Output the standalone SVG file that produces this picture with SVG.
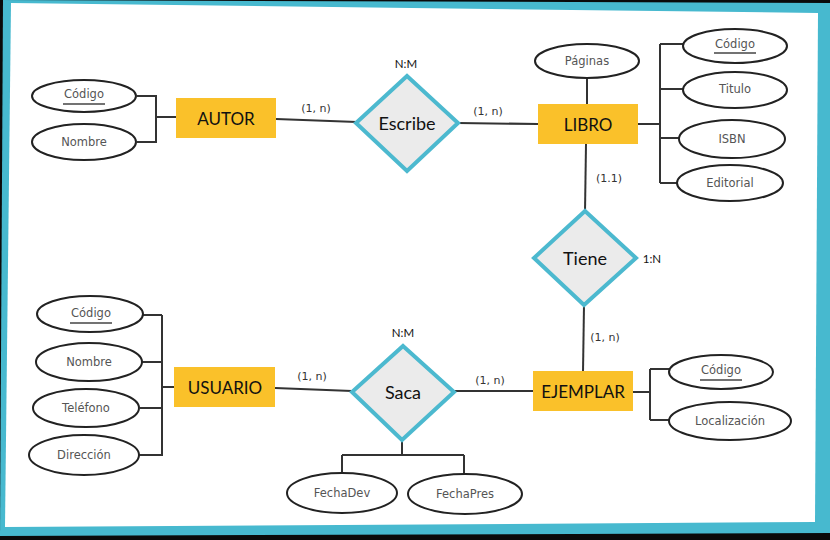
<svg xmlns="http://www.w3.org/2000/svg" width="830" height="540" viewBox="0 0 830 540">
<style>
.ent rect{fill:#FAC12A}
.ent text{font-family:Lato,"Open Sans",sans-serif;font-size:17px;fill:#111;text-anchor:middle;dominant-baseline:central}
.rel polygon{fill:#EBEBEB;stroke:#4CB9CF;stroke-width:4;stroke-linejoin:miter}
.rel text{font-family:Lato,"Open Sans",sans-serif;font-size:18px;fill:#111;text-anchor:middle;dominant-baseline:central}
.att ellipse{fill:#fff;stroke:#222;stroke-width:2}
.att text{font-family:"DejaVu Sans",sans-serif;font-size:11.5px;fill:#555;text-anchor:middle;dominant-baseline:central}
.att line{stroke:#444;stroke-width:1.6}
.conn path{fill:none;stroke:#333;stroke-width:2}
.lbl{font-family:"DejaVu Sans",sans-serif;font-size:11px;fill:#333;text-anchor:middle;dominant-baseline:central}
.card{font-family:Lato,"Open Sans",sans-serif;font-size:11.5px;fill:#111;text-anchor:middle;dominant-baseline:central}
</style>
<rect x="0" y="0" width="830" height="540" fill="#0a0a0a"/>
<polygon points="3,0 830,3 830,533 0,536" fill="#47B9CF"/>
<polygon points="11,3 818,13 815,522 5,527" fill="#fff"/>

<g class="conn" id="connectors">
<path d="M137,96 H156 M137,142 H156 M156,95 V143 M156,117 H176"/>
<path d="M276,119 L357,122"/>
<path d="M458,123 L538,124"/>
<path d="M587,79 V104"/>
<path d="M586,144 L585,212"/>
<path d="M638,124 H660 M660,44 V183 M660,44 H683 M660,89 H683 M660,138 H679 M660,183 H678"/>
<path d="M584,305 L583,372"/>
<path d="M633,392 H650 M650,369 V420 M650,369 H669 M650,420 H669"/>
<path d="M143,315 H162 M142,362 H162 M140,408 H162 M139,455 H162 M162,315 V456 M162,387 H174"/>
<path d="M275,388 L352,391"/>
<path d="M454,391 L533,391"/>
<path d="M402,440 V455 M342,455 H464 M342,455 V473 M464,455 V474"/>
</g>

<g id="autor" class="ent"><rect x="176" y="98" width="100" height="40"/><text x="226" y="118">AUTOR</text></g>
<g id="libro" class="ent"><rect x="538" y="104" width="100" height="40"/><text x="588" y="124">LIBRO</text></g>
<g id="ejemplar" class="ent"><rect x="533" y="371" width="100" height="40"/><text x="583" y="391">EJEMPLAR</text></g>
<g id="usuario" class="ent"><rect x="174" y="367" width="101" height="40"/><text x="225" y="387">USUARIO</text></g>

<g id="escribe" class="rel"><polygon points="407,76 458,123 407,171 356,123"/><text x="407" y="123">Escribe</text></g>
<g id="tiene" class="rel"><polygon points="585,211 636,258 584,305 534,258"/><text x="585" y="258">Tiene</text></g>
<g id="saca" class="rel"><polygon points="403,346 454,392 402,440 352,392"/><text x="403" y="392">Saca</text></g>

<g id="autor-codigo" class="att"><ellipse cx="84" cy="96" rx="52" ry="16"/><text x="84" y="94">Código</text><line x1="63" y1="104" x2="105" y2="104"/></g>
<g id="autor-nombre" class="att"><ellipse cx="84" cy="142" rx="52" ry="18"/><text x="84" y="142">Nombre</text></g>

<g id="libro-paginas" class="att"><ellipse cx="587" cy="61" rx="52" ry="17"/><text x="587" y="61">Páginas</text></g>
<g id="libro-codigo" class="att"><ellipse cx="735" cy="46" rx="52" ry="17"/><text x="735" y="44">Código</text><line x1="714" y1="53" x2="756" y2="53"/></g>
<g id="libro-titulo" class="att"><ellipse cx="735" cy="90" rx="52" ry="18"/><text x="735" y="89">Titulo</text></g>
<g id="libro-isbn" class="att"><ellipse cx="732" cy="139" rx="53" ry="19"/><text x="732" y="139">ISBN</text></g>
<g id="libro-editorial" class="att"><ellipse cx="730" cy="183" rx="53" ry="18"/><text x="730" y="183">Editorial</text></g>

<g id="ejemplar-codigo" class="att"><ellipse cx="721" cy="372" rx="52" ry="17"/><text x="721" y="370">Código</text><line x1="700" y1="380" x2="742" y2="380"/></g>
<g id="ejemplar-localizacion" class="att"><ellipse cx="730" cy="421" rx="61" ry="19"/><text x="730" y="421">Localización</text></g>

<g id="usuario-codigo" class="att"><ellipse cx="90" cy="314" rx="53" ry="18"/><text x="91" y="313">Código</text><line x1="70" y1="323" x2="112" y2="323"/></g>
<g id="usuario-nombre" class="att"><ellipse cx="89" cy="362" rx="53" ry="19"/><text x="89" y="362">Nombre</text></g>
<g id="usuario-telefono" class="att"><ellipse cx="86" cy="408" rx="53" ry="19"/><text x="86" y="408">Teléfono</text></g>
<g id="usuario-direccion" class="att"><ellipse cx="84" cy="455" rx="55" ry="20"/><text x="84" y="455">Dirección</text></g>

<g id="saca-fechadev" class="att"><ellipse cx="342" cy="493" rx="55" ry="20"/><text x="342" y="493">FechaDev</text></g>
<g id="saca-fechapres" class="att"><ellipse cx="465" cy="494" rx="57" ry="20"/><text x="465" y="494">FechaPres</text></g>

<g id="labels">
<text class="lbl" x="316" y="108">(1, n)</text>
<text class="lbl" x="488" y="111">(1, n)</text>
<text class="card" x="406" y="63">N:M</text>
<text class="lbl" x="609" y="178">(1.1)</text>
<text class="card" x="652" y="258">1:N</text>
<text class="lbl" x="605" y="337">(1, n)</text>
<text class="card" x="403" y="332">N:M</text>
<text class="lbl" x="312" y="376">(1, n)</text>
<text class="lbl" x="490" y="380">(1, n)</text>
</g>
</svg>
